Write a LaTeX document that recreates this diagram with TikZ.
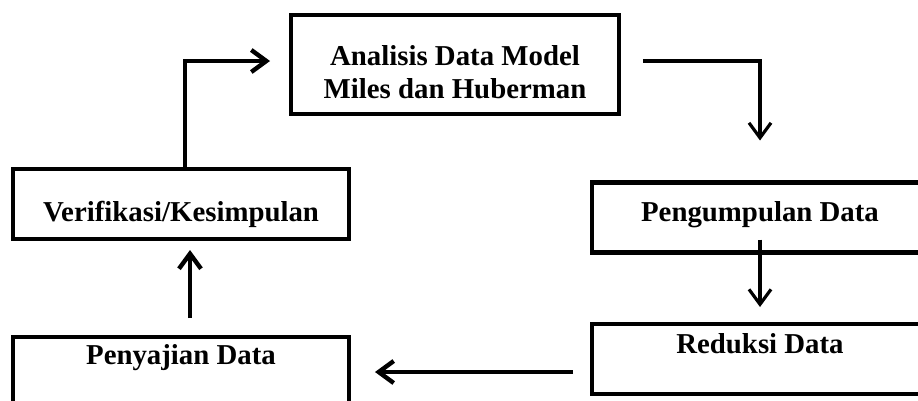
\documentclass[tikz,border=0pt]{standalone}
\usepackage{fontspec}
\setmainfont{Liberation Serif}
\usetikzlibrary{arrows.meta}

\begin{document}
\begin{tikzpicture}[x=0.02cm, y=-0.02cm]
      \tikzstyle{arrow} = [line width=2.5pt, -{Straight Barb[length=0.3cm, width=0.44cm]}]
      \tikzstyle{thinarrow} = [arrow, line width=1.8pt]
      \tikzstyle{stage} = [rectangle, draw=black, line width=2.3pt, minimum width=6.72cm, minimum height=1.4cm, inner sep=0pt, text centered, font=\fontsize{16.4pt}{18.7pt}\selectfont\bfseries, text height=0.38cm]

      \path[use as bounding box, clip] (0, 0) rectangle (918, 400);

      \node (analisis) [stage, minimum width=6.56cm, minimum height=1.98cm, align=center, text height=1.34cm, text depth=0cm] at (455, 64.5) {Analisis Data Model\\Miles dan Huberman};
      \node (verif) [stage, text height=0.7cm, text depth=0cm] at (181, 204) {Verifikasi/Kesimpulan};
      \node (pengumpulan) [stage, text depth=0.24cm] at (760, 217.5) {Pengumpulan Data};
      \node (reduksi) [stage, text depth=0.6cm] at (760, 359) {Reduksi Data};
      \node (penyajian) [stage, text depth=0.68cm] at (181, 372) {Penyajian Data};

      \draw [arrow, shorten >=0.38cm] ([xshift=0.08cm]verif.north) |- ([yshift=0.07cm]analisis.west);
      \draw [thinarrow, shorten <=0.44cm, shorten >=0.8cm] ([yshift=0.07cm]analisis.east) -| (pengumpulan.north);
      \draw [thinarrow] ([yshift=0.3cm]pengumpulan.south) -- ([yshift=0.3cm]reduksi.north);
      \draw [arrow] ([xshift=-0.34cm]reduksi.west |- penyajian.east) -- ([xshift=0.48cm]penyajian.east);
      \draw [arrow, shorten <=0.34cm, shorten >=0.18cm] ([xshift=0.18cm]penyajian.north) -- ([xshift=0.18cm]verif.south);
\end{tikzpicture}
\end{document}
